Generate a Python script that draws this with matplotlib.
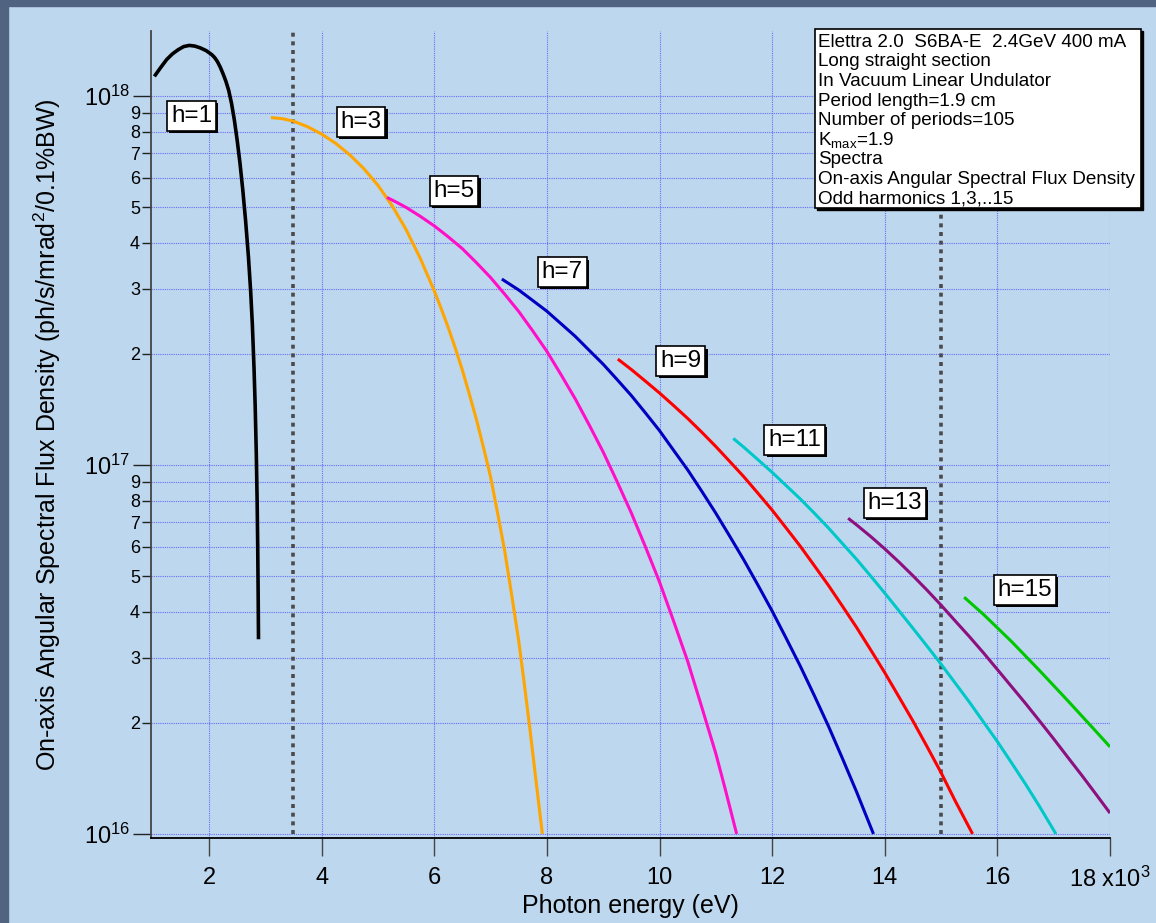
import matplotlib.pyplot as plt
import matplotlib.patheffects as pe
from matplotlib.patches import Rectangle

plt.rcParams['font.family'] = ['Liberation Sans', 'DejaVu Sans']
plt.rcParams['mathtext.fontset'] = 'custom'
plt.rcParams['mathtext.rm'] = 'Liberation Sans'
plt.rcParams['mathtext.it'] = 'Liberation Sans:italic'
plt.rcParams['mathtext.bf'] = 'Liberation Sans:bold'
plt.rcParams['mathtext.default'] = 'regular'

# harmonic spectra, photon energy in keV, flux density in ph/s/mrad^2/0.1%BW
h1_x = [1.03, 1.15, 1.25, 1.35, 1.45, 1.55, 1.65, 1.75, 1.85, 1.95, 2.05, 2.10, 2.15, 2.20,
        2.25, 2.30, 2.35, 2.40, 2.45, 2.50, 2.55, 2.60, 2.65, 2.70, 2.74, 2.77, 2.80, 2.82,
        2.84, 2.855, 2.865, 2.873, 2.879]
h1_y = [1.130e18, 1.199e18, 1.256e18, 1.300e18, 1.334e18, 1.361e18, 1.371e18, 1.365e18,
        1.349e18, 1.327e18, 1.294e18, 1.271e18, 1.239e18, 1.197e18, 1.148e18, 1.096e18,
        1.035e18, 9.55e17, 8.61e17, 7.59e17, 6.58e17, 5.56e17, 4.59e17, 3.67e17, 2.95e17,
        2.40e17, 1.82e17, 1.445e17, 1.07e17, 7.94e16, 6.03e16, 4.47e16, 3.37e16]

h3_x = [3.10, 3.30, 3.50, 3.75, 4.00, 4.25, 4.50, 4.75, 5.00, 5.25, 5.50, 5.75, 6.00, 6.125,
        6.25, 6.375, 6.50, 6.625, 6.75, 6.875, 7.00, 7.125, 7.25, 7.375, 7.50, 7.60, 7.70,
        7.80, 7.92]
h3_y = [8.74e17, 8.68e17, 8.545e17, 8.255e17, 7.884e17, 7.44e17, 6.925e17, 6.353e17, 5.728e17,
        5.047e17, 4.345e17, 3.635e17, 2.964e17, 2.649e17, 2.354e17, 2.07e17, 1.806e17,
        1.552e17, 1.327e17, 1.114e17, 9.29e16, 7.41e16, 5.86e16, 4.446e16, 3.334e16,
        2.547e16, 1.919e16, 1.422e16, 1.0e16]

h5_x = [5.16, 5.33, 5.50, 5.75, 6.00, 6.25, 6.50, 6.75, 7.00, 7.25, 7.50, 7.75, 8.00, 8.25,
        8.50, 8.75, 9.00, 9.25, 9.50, 9.75, 10.00, 10.25, 10.50, 10.75, 11.00, 11.17, 11.37]
h5_y = [5.31e17, 5.152e17, 4.989e17, 4.721e17, 4.446e17, 4.150e17, 3.855e17, 3.532e17,
        3.221e17, 2.904e17, 2.606e17, 2.307e17, 2.032e17, 1.758e17, 1.514e17, 1.285e17,
        1.084e17, 8.99e16, 7.41e16, 6.0e16, 4.82e16, 3.776e16, 2.938e16, 2.208e16, 1.652e16,
        1.318e16, 1.0e16]

h7_x = [7.20, 7.50, 7.75, 8.00, 8.25, 8.50, 8.75, 9.00, 9.25, 9.50, 9.75, 10.00, 10.25, 10.50,
        10.75, 11.00, 11.25, 11.50, 11.75, 12.00, 12.25, 12.50, 12.75, 13.00, 13.25, 13.50,
        13.65, 13.80]
h7_y = [3.19e17, 2.98e17, 2.79e17, 2.61e17, 2.415e17, 2.234e17, 2.046e17, 1.875e17, 1.702e17,
        1.542e17, 1.384e17, 1.239e17, 1.096e17, 9.70e16, 8.49e16, 7.40e16, 6.40e16, 5.52e16,
        4.72e16, 4.02e16, 3.39e16, 2.85e16, 2.37e16, 1.96e16, 1.60e16, 1.30e16, 1.14e16, 1.0e16]

h9_x = [9.26, 9.50, 9.75, 10.00, 10.25, 10.50, 10.75, 11.00, 11.25, 11.50, 11.75, 12.00, 12.25,
        12.50, 12.75, 13.00, 13.25, 13.50, 13.75, 14.00, 14.25, 14.50, 14.75, 15.00, 15.25, 15.56]
h9_y = [1.936e17, 1.814e17, 1.687e17, 1.567e17, 1.449e17, 1.337e17, 1.227e17, 1.122e17,
        1.021e17, 9.28e16, 8.375e16, 7.546e16, 6.745e16, 6.022e16, 5.333e16, 4.717e16, 4.14e16,
        3.628e16, 3.155e16, 2.736e16, 2.355e16, 2.024e16, 1.726e16, 1.466e16, 1.23e16, 1.0e16]

h11_x = [11.31, 11.50, 11.75, 12.00, 12.25, 12.50, 12.75, 13.00, 13.25, 13.50, 13.75, 14.00,
         14.25, 14.50, 14.75, 15.00, 15.25, 15.50, 15.75, 16.00, 16.25, 16.50, 16.75, 17.04]
h11_y = [1.18e17, 1.116e17, 1.033e17, 9.55e16, 8.79e16, 8.09e16, 7.40e16, 6.75e16, 6.12e16,
         5.55e16, 5.0e16, 4.495e16, 4.03e16, 3.61e16, 3.23e16, 2.885e16, 2.565e16, 2.28e16,
         2.014e16, 1.78e16, 1.56e16, 1.365e16, 1.186e16, 1.0e16]

h13_x = [13.35, 13.50, 13.75, 14.00, 14.25, 14.50, 14.75, 15.00, 15.25, 15.50, 15.75, 16.00,
         16.25, 16.50, 16.75, 17.00, 17.25, 17.50, 17.75, 18.00]
h13_y = [7.17e16, 6.88e16, 6.40e16, 5.925e16, 5.46e16, 5.01e16, 4.58e16, 4.17e16, 3.78e16,
         3.43e16, 3.10e16, 2.79e16, 2.51e16, 2.258e16, 2.023e16, 1.81e16, 1.614e16, 1.441e16,
         1.282e16, 1.139e16]

h15_x = [15.41, 15.75, 16.25, 16.75, 17.25, 17.75, 18.00]
h15_y = [4.38e16, 3.94e16, 3.324e16, 2.771e16, 2.297e16, 1.897e16, 1.722e16]

curves = [(h1_x, h1_y, '#000000'), (h3_x, h3_y, '#FFA500'), (h5_x, h5_y, '#FF10C8'),
          (h7_x, h7_y, '#0000C0'), (h9_x, h9_y, '#FF0000'), (h11_x, h11_y, '#00C8C8'),
          (h13_x, h13_y, '#8E0F7E'), (h15_x, h15_y, '#00C800')]

# harmonic labels and where they sit
harm_labels = ['h=1', 'h=3', 'h=5', 'h=7', 'h=9', 'h=11', 'h=13', 'h=15']
label_x = [1.69, 4.70, 6.35, 8.27, 10.38, 12.40, 14.18, 16.49]
label_y = [8.83e17, 8.50e17, 5.53e17, 3.33e17, 1.91e17, 1.17e17, 7.89e16, 4.58e16]

dotted_x = [3.5, 15.0]

xticks = [2, 4, 6, 8, 10, 12, 14, 16, 18]
xtick_labels = ['2', '4', '6', '8', '10', '12', '14', '16', '18 x10$^3$']
ymajor = [1e16, 1e17, 1e18]
ymajor_labels = ['$10^{16}$', '$10^{17}$', '$10^{18}$']
ysub = [2, 3, 4, 5, 6, 7, 8, 9]

info_lines = ['Elettra 2.0  S6BA-E  2.4GeV 400 mA',
              'Long straight section',
              'In Vacuum Linear Undulator',
              'Period length=1.9 cm',
              'Number of periods=105',
              'K$_{max}$=1.9',
              'Spectra',
              'On-axis Angular Spectral Flux Density',
              'Odd harmonics 1,3,..15']

W, H = 1156, 923
bg = '#BDD7EE'
dark = '#506482'
fig = plt.figure(figsize=(W / 100, H / 100), dpi=100, facecolor=bg)
fig.patches.append(Rectangle((0, 0), 8 / W, 1, transform=fig.transFigure,
                             color=dark, zorder=-5))
fig.patches.append(Rectangle((0, 1 - 6 / H), 1, 6 / H, transform=fig.transFigure,
                             color=dark, zorder=-5))

ax = fig.add_axes([151 / W, 1 - 838 / H, (1110 - 151) / W, (838 - 31) / H])
ax.set_facecolor(bg)
ax.set_yscale('log')
ax.set_xlim(0.97, 18.0)
ax.set_ylim(9.75e15, 1.5e18)

for cx, cy, col in curves:
    lw = 2.6 if col == '#000000' else 2.2
    ax.plot(cx, cy, color=col, lw=lw, solid_capstyle='butt', solid_joinstyle='round', zorder=3)

ax.vlines(dotted_x, 1e16, 1.5e18, colors='#4a4a4a', lw=2.6,
          linestyles=[(0, (1.1, 1.3))], capstyle='butt', zorder=2)

for t, lx, ly in zip(harm_labels, label_x, label_y):
    txt = ax.text(lx, ly, t, ha='center', va='center', fontsize=17.5, zorder=5,
                  bbox=dict(boxstyle='square,pad=0.16', fc='white', ec='black', lw=1.2))
    txt.get_bbox_patch().set_path_effects([
        pe.SimplePatchShadow(offset=(1.6, -1.6), shadow_rgbFace='black', alpha=1.0),
        pe.Normal()])

# axes styling
ax.spines['top'].set_visible(False)
ax.spines['right'].set_visible(False)
ax.spines['left'].set_color('#444444')
ax.spines['left'].set_linewidth(1.3)
ax.spines['bottom'].set_color('black')
ax.spines['bottom'].set_linewidth(1.3)

ax.set_xticks(xticks)
ax.set_xticklabels(xtick_labels)
ax.set_yticks(ymajor)
ax.set_yticklabels(ymajor_labels)
yminor = [m * 10.0 ** e for e in (16, 17) for m in ysub]
ax.set_yticks(yminor, minor=True)
ax.set_yticklabels([str(m) for e in (16, 17) for m in ysub], minor=True)

ax.tick_params(axis='x', which='major', direction='out', length=13, width=1.0,
               color='#444444', labelsize=17, pad=8)
ax.tick_params(axis='y', which='major', direction='out', length=13, width=1.0,
               color='#222222', labelsize=17, pad=2)
ax.tick_params(axis='y', which='minor', direction='out', length=6.5, width=1.0,
               color='#222222', labelsize=13, pad=1.5)

ax.set_axisbelow(True)
grid_kw = dict(color='#5a5aff', lw=0.8, linestyle=(0, (1, 1)), alpha=0.85)
ax.grid(True, which='major', axis='x', **grid_kw)
ax.grid(True, which='both', axis='y', **grid_kw)

ax.set_xlabel('Photon energy (eV)', fontsize=18)
ax.set_ylabel('On-axis Angular Spectral Flux Density (ph/s/mrad$^2$/0.1%BW)', fontsize=18)
ax.xaxis.set_label_coords(0.5, -0.070)
ax.yaxis.set_label_coords(-0.092, 0.5)

# info box in upper right
box_l, box_t, box_r, box_b = 815, 29, 1141, 208
fig.patches.append(Rectangle((box_l / W + 2 / W, 1 - box_b / H - 2 / H), (box_r - box_l) / W,
                             (box_b - box_t) / H, transform=fig.transFigure,
                             fc='black', ec='black', zorder=6))
fig.patches.append(Rectangle((box_l / W, 1 - box_b / H), (box_r - box_l) / W,
                             (box_b - box_t) / H, transform=fig.transFigure,
                             fc='white', ec='black', lw=1.2, zorder=7))
for i, line in enumerate(info_lines):
    fig.text(818 / W, 1 - (47 + 19.5 * i) / H, line, fontsize=13.6, va='baseline',
             ha='left', zorder=8)

fig.savefig('out.png', dpi=100, facecolor=bg)
